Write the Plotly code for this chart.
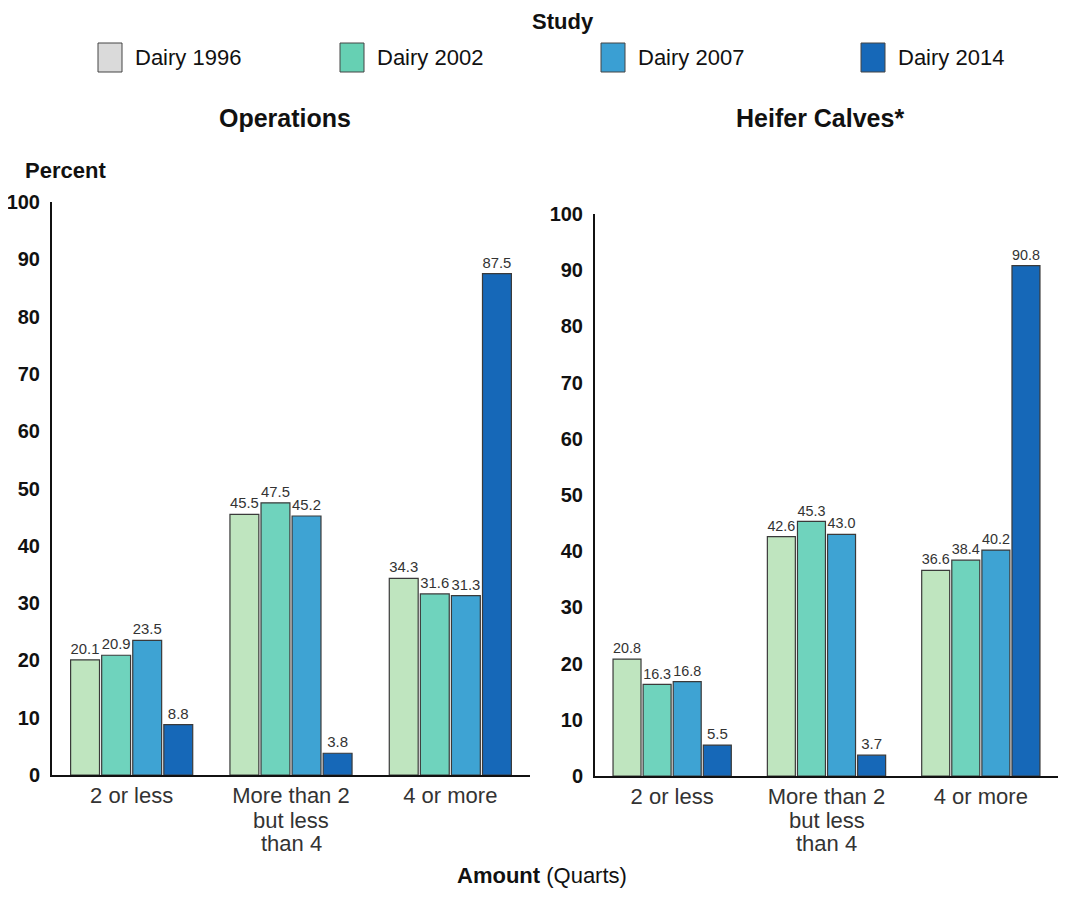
import plotly.graph_objects as go

categories = ["2 or less", "More than 2<br>but less<br>than 4", "4 or more"]
series_names = ["Dairy 1996", "Dairy 2002", "Dairy 2007", "Dairy 2014"]
operations = {
    "Dairy 1996": [20.1, 45.5, 34.3],
    "Dairy 2002": [20.9, 47.5, 31.6],
    "Dairy 2007": [23.5, 45.2, 31.3],
    "Dairy 2014": [8.8, 3.8, 87.5],
}
heifers = {
    "Dairy 1996": [20.8, 42.6, 36.6],
    "Dairy 2002": [16.3, 45.3, 38.4],
    "Dairy 2007": [16.8, 43.0, 40.2],
    "Dairy 2014": [5.5, 3.7, 90.8],
}
bar_colors = ["#bfe5bf", "#6fd3bd", "#3ea3d3", "#1668b8"]
legend_colors = ["#dadada", "#66d0b3", "#3a9fd3", "#1668b8"]
y_ticks = [0, 10, 20, 30, 40, 50, 60, 70, 80, 90, 100]

# figure is placed inside the page body (8px margin), so convert page px -> paper
FW, FH = 1050, 881
OFF = 8
FONT = "Liberation Sans, Arial"

def px(x):
    return min(max((x - OFF) / FW, 0.0), 1.0)

def py(y):
    return min(max(1 - (y - OFF) / FH, 0.0), 1.0)

first_lines = [c.split("<br>")[0] for c in categories]

fig = go.Figure()
for axis_x, axis_y, data in (("x", "y", operations), ("x2", "y2", heifers)):
    for i, name in enumerate(series_names):
        fig.add_trace(go.Bar(
            x=categories, y=data[name], name=name,
            marker=dict(color=bar_colors[i], line=dict(color="#3a3a3a", width=1.2)),
            text=[f"{v:.1f}" for v in data[name]], textposition="outside",
            textfont=dict(size=15, color="#333333", family=FONT),
            cliponaxis=False, showlegend=False, xaxis=axis_x, yaxis=axis_y,
        ))

xaxis_common = dict(
    type="category", range=[-0.5, 2.5], showline=True, linecolor="#111111", linewidth=2,
    showgrid=False, zeroline=False, ticks="",
    tickvals=categories, ticktext=first_lines,
    tickfont=dict(size=22, color="#333333", family=FONT),
    automargin=False, fixedrange=True,
)
yaxis_common = dict(
    range=[0, 100], tickvals=y_ticks, showline=True, linecolor="#111111", linewidth=2,
    showgrid=False, zeroline=False, ticks="", ticklabelstandoff=6,
    tickfont=dict(size=20, color="#111111", family=FONT, weight="bold"),
    automargin=False, fixedrange=True,
)

fig.update_layout(
    width=FW, height=FH,
    margin=dict(l=0, r=0, t=0, b=0),
    paper_bgcolor="white", plot_bgcolor="white",
    barmode="group", bargap=0.22, bargroupgap=0.07,
    showlegend=False,
    font=dict(family=FONT, color="#111111"),
    xaxis=dict(domain=[px(52), px(530)], anchor="y", **xaxis_common),
    yaxis=dict(domain=[py(775), py(202)], anchor="x", **yaxis_common),
    xaxis2=dict(domain=[px(595), px(1058)], anchor="y2", **xaxis_common),
    yaxis2=dict(domain=[py(776), py(214)], anchor="x2", **yaxis_common),
)

annotations = [
    dict(text="<b>Study</b>", x=px(563), y=py(21), font=dict(size=22)),
    dict(text="<b>Operations</b>", x=px(285), y=py(118), font=dict(size=25)),
    dict(text="<b>Heifer Calves*</b>", x=px(820), y=py(118), font=dict(size=25)),
    dict(text="<b>Percent</b>", x=px(65), y=py(170), font=dict(size=22)),
    dict(text="<b>Amount</b> (Quarts)", x=px(542), y=py(875), font=dict(size=22)),
]
# remaining lines of wrapped category labels, placed under their category
for xref in ("x", "x2"):
    for cat in categories:
        for k, line in enumerate(cat.split("<br>")[1:]):
            annotations.append(dict(text=line, x=cat, xref=xref, y=py(820 + 23 * k),
                                    font=dict(size=22, color="#333333")))

legend_x = [98, 340, 601, 861]
shapes = []
for i, name in enumerate(series_names):
    x0 = legend_x[i]
    shapes.append(dict(type="rect", xref="paper", yref="paper",
                       x0=px(x0), x1=px(x0 + 24), y0=py(72), y1=py(43),
                       fillcolor=legend_colors[i], line=dict(color="#444444", width=1)))
    annotations.append(dict(text=name, x=px(x0 + 35), y=py(57), xanchor="left",
                            font=dict(size=22, color="#111111")))

for a in annotations:
    a.setdefault("xanchor", "center")
    a.setdefault("xref", "paper")
    a.update(yref="paper", showarrow=False, yanchor="middle")
    a["font"].setdefault("color", "#111111")
    a["font"]["family"] = FONT

fig.update_layout(annotations=annotations, shapes=shapes)
fig.write_html("out.html")
